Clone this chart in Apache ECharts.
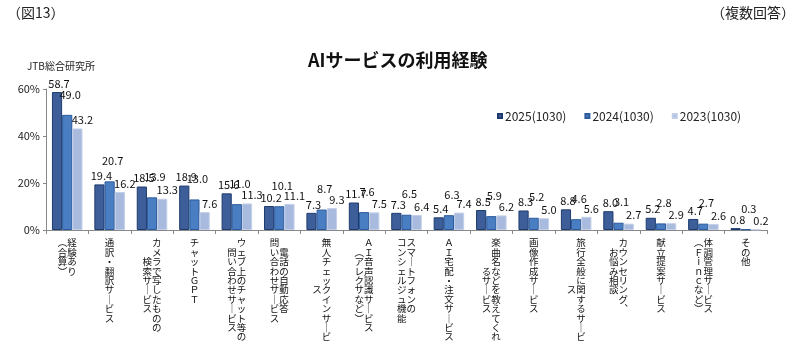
<!DOCTYPE html>
<html><head><meta charset="utf-8">
<script src="https://cdn.jsdelivr.net/npm/echarts@6/dist/echarts.min.js"></script>
<style>html,body{margin:0;padding:0;background:#fff}#c{width:800px;height:358px}</style>
</head><body><div id="c"></div>
<script>
const categories = [
  "経験あり\n（合算）",
  "通訳・翻訳サービス",
  "カメラで写したものの\n検索サービス",
  "チャットGPT",
  "ウェブ上のチャット等の\n問い合わせサービス",
  "電話の自動応答\n問い合わせサービス",
  "無人チェックインサービ\nス",
  "AI音声認識サービス\n（アレクサなど）",
  "スマートフォンの\nコンシェルジュ機能",
  "AI宅配・注文サービス",
  "楽曲名などを教えてくれ\nるサービス",
  "画像作成サービス",
  "旅行全般に関するサービ\nス",
  "カウンセリング、\nお悩み相談",
  "献立提案サービス",
  "体調管理サービス\n（Fincなど）",
  "その他"
];
const seriesNames = ["2025(1030)", "2024(1030)", "2023(1030)"];
const values2025 = [58.7, 19.4, 18.5, 18.9, 15.6, 10.2, 7.3, 11.7, 7.3, 5.4, 8.5, 8.3, 8.8, 8.0, 5.2, 4.7, 0.8];
const values2024 = [49.0, 20.7, 13.9, 13.0, 11.0, 10.1, 8.7, 7.6, 6.5, 6.3, 5.9, 5.2, 4.6, 3.1, 2.8, 2.7, 0.3];
const values2023 = [43.2, 16.2, 13.3, 7.6, 11.3, 11.1, 9.3, 7.5, 6.4, 7.4, 6.2, 5.0, 5.6, 2.7, 2.9, 2.6, 0.2];
const yTicks = [0, 20, 40, 60];

const JP = '"Noto Sans CJK JP", "Noto Sans", sans-serif';

function vChar(ch) {
  const map = { 'ー': '｜', '（': '︵', '）': '︶', '、': '︑', '(': '︵', ')': '︶' };
  if (map[ch]) return map[ch];
  const c = ch.charCodeAt(0);
  if (c >= 0x21 && c <= 0x7e) return String.fromCharCode(c + 0xFEE0);
  return ch;
}
function verticalLabel(s) {
  const cols = s.split('\n').map(c => Array.from(c).map(vChar));
  const n = Math.max(...cols.map(c => c.length));
  const padded = cols.map(c => {
    const top = Math.floor((n - c.length) / 2);
    const out = [];
    for (let i = 0; i < top; i++) out.push('　');
    out.push(...c);
    while (out.length < n) out.push('　');
    return out;
  });
  const lines = [];
  for (let i = 0; i < n; i++) {
    lines.push(padded.slice().reverse().map(c => c[i]).join(''));
  }
  return lines.join('\n');
}

const colors = ['#3d5e98', '#4a7ec2', '#a8badd'];
const borders = ['#1f3b6e', '#2c5a9c', '#c3cfe8'];
const labelOffsets = [[2, 0], [3, -12], [5, 0]];
const data = [values2025, values2024, values2023];

const chart = echarts.init(document.getElementById('c'), null, { renderer: 'canvas' });
chart.setOption({
  backgroundColor: '#fff',
  animation: false,
  textStyle: { fontFamily: JP },
  graphic: [
    { type: 'text', left: 7, top: 6, style: { text: '（図13）', font: '14px ' + JP, fill: '#222' } },
    { type: 'text', right: 5, top: 6, style: { text: '（複数回答）', font: '14px ' + JP, fill: '#222' } },
    { type: 'text', left: 27, top: 61, style: { text: 'JTB総合研究所', font: '10px ' + JP, fill: '#222' } },
    { type: 'text', left: 308, top: 51, style: { text: 'AIサービスの利用経験', font: 'bold 18px ' + JP, fill: '#111' } }
  ],
  legend: {
    left: 492, top: 105,
    itemWidth: 4, itemHeight: 4, itemGap: 18,
    icon: 'rect',
    textStyle: { fontSize: 12, fontFamily: JP, color: '#222', padding: [0, 0, 0, -2] },
    data: seriesNames
  },
  grid: { left: 46, right: 33, top: 89, bottom: 128, containLabel: false },
  xAxis: {
    type: 'category',
    data: categories,
    axisLine: { lineStyle: { color: '#888', width: 1 } },
    axisTick: { show: true, length: 4, lineStyle: { color: '#888' } },
    axisLabel: {
      interval: 0, margin: 8, fontSize: 9.5, lineHeight: 9.4, color: '#111',
      fontFamily: JP, verticalAlign: 'top',
      formatter: v => verticalLabel(v)
    }
  },
  yAxis: {
    type: 'value', min: 0, max: 60, interval: 20,
    axisLine: { show: true, lineStyle: { color: '#888' } },
    axisTick: { show: true, length: 3, lineStyle: { color: '#888' } },
    splitLine: { show: false },
    axisLabel: { fontSize: 11, color: '#222', margin: 6, formatter: v => yTicks.includes(v) ? v + '%' : '' }
  },
  series: seriesNames.map((name, i) => ({
    name, type: 'bar', data: data[i],
    barGap: '0%', barCategoryGap: '28%',
    itemStyle: { color: colors[i], borderColor: borders[i], borderWidth: 1 },
    label: {
      show: true, position: 'top', distance: 3, offset: labelOffsets[i],
      fontSize: 11, color: '#111', fontFamily: JP,
      formatter: p => p.value.toFixed(1)
    }
  }))
});
</script></body></html>
